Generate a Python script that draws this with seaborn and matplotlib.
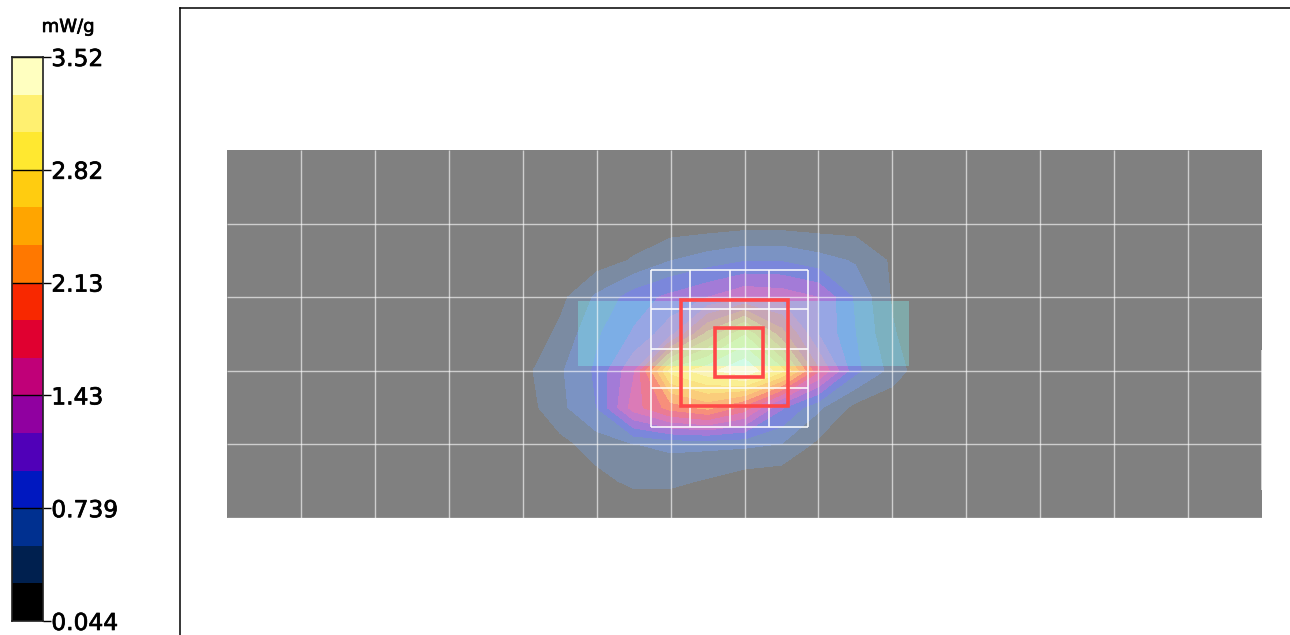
import numpy as np
import matplotlib
matplotlib.use('Agg')
import matplotlib.pyplot as plt
import matplotlib.patheffects as pe
from matplotlib.colors import ListedColormap, to_rgb
from matplotlib.patches import Rectangle
import seaborn as sns

# colour bar, bottom to top
bar_colors = ['#000000', '#00204f', '#003090', '#0018c0', '#5000b8',
              '#9000a0', '#c00078', '#e00030', '#f82800', '#ff7800',
              '#ffa500', '#ffcc10', '#ffe830', '#fff070', '#ffffc0']
bar_labels = ['3.52', '2.82', '2.13', '1.43', '0.739', '0.044']
level_min = 0.044
level_max = 3.52

# scan area size in cells
n_cols = 14
n_rows = 5

# SAR values, half cell spacing
scan_x = [4.0, 4.5, 5.0, 5.5, 6.0, 6.5, 7.0, 7.5, 8.0, 8.5, 9.0, 9.5]
scan_y = [1.0, 1.5, 2.0, 2.5, 3.0, 3.5, 4.0, 4.5, 5.0]
row_10 = [.05, .05, .08, .10, .13, .14, .17, .17, .15, .16, .12, .05]
row_15 = [.05, .08, .15, .30, .50, .62, .72, .72, .60, .48, .24, .08]
row_20 = [.05, .20, .55, .85, 1.03, 1.20, 1.40, 1.35, 1.20, .70, .25, .05]
row_25 = [.08, .33, .70, 1.00, 1.35, 2.20, 2.80, 2.00, 1.20, .74, .30, .08]
row_30 = [.20, .47, .78, 1.40, 2.90, 3.20, 3.52, 2.90, 1.70, .80, .42, .05]
row_35 = [.15, .44, .74, 1.55, 2.00, 2.20, 1.80, 1.00, .55, .20, .08, .05]
row_40 = [.05, .20, .38, .50, .56, .56, .55, .50, .22, .10, .05, .05]
row_45 = [.05, .08, .20, .33, .33, .25, .14, .10, .06, .05, .05, .05]
row_50 = [.05, .05, .05, .05, .05, .05, .05, .05, .05, .05, .05, .05]

W, H = 1290, 635


def px_axes(fig, x0, y0, x1, y1):
    return fig.add_axes([x0 / W, 1 - y1 / H, (x1 - x0) / W, (y1 - y0) / H])


def sx(px):
    # picture x to cell units
    return (px - 227) / (1262 - 227) * n_cols


def sy(px):
    return (px - 150) / (518 - 150) * n_rows


sns.set_theme(style='white')
plt.rcParams['font.family'] = ['DejaVu Sans']

fig = plt.figure(figsize=(W / 100, H / 100), dpi=100, facecolor='white')

# frame round the plot area, only left and top show
frame = px_axes(fig, 180, 8, W + 5, H + 5)
frame.set_xticks([])
frame.set_yticks([])
for side in ['right', 'bottom']:
    frame.spines[side].set_visible(False)
for side in ['left', 'top']:
    frame.spines[side].set_linewidth(1.1)
    frame.spines[side].set_color('black')

# colour bar
thick = [pe.withStroke(linewidth=0.5, foreground='black')]
cax = px_axes(fig, 12, 57, 43, 621)
steps = np.arange(len(bar_colors))[::-1].reshape(-1, 1)
sns.heatmap(steps, ax=cax, cmap=ListedColormap(bar_colors), cbar=False,
            xticklabels=False, yticklabels=False)
cax.yaxis.tick_right()
tick_pos = np.arange(len(bar_labels)) * 3
cax.set_yticks(tick_pos, bar_labels, rotation=0, fontsize=16.8, color='black')
cax.tick_params(axis='y', length=5.5, width=1, color='black', pad=0.5, right=True, left=False)
for lab in cax.get_yticklabels():
    lab.set_path_effects(thick)
cax.hlines(tick_pos, 0, 1, color='black', lw=1)
for s in cax.spines.values():
    s.set_visible(True)
    s.set_linewidth(1.2)
    s.set_color('#202020')
fig.text(68 / W, 1 - 27 / H, 'mW/g', ha='center', va='center', fontsize=13, color='black',
         path_effects=thick)

# grey scan area
ax = px_axes(fig, 227, 150, 1262, 518)
sns.heatmap(np.zeros((n_rows, n_cols)), ax=ax, cmap=ListedColormap(['#808080']), cbar=False,
            xticklabels=False, yticklabels=False)
ax.tick_params(left=False, bottom=False)

# contours, bar colours washed out over the grey
levels = np.linspace(level_min, level_max, len(bar_colors) + 1)
washed = [tuple(0.5 * c + 0.482 for c in to_rgb(col)) for col in bar_colors]
scan_z = np.array([row_10, row_15, row_20, row_25, row_30, row_35, row_40, row_45, row_50])
ax.contourf(scan_x, scan_y, scan_z, levels=levels[1:], colors=washed[1:], zorder=2)

# teal cube footprint
ax.add_patch(Rectangle((sx(578), sy(301)), sx(909) - sx(578), sy(366) - sy(301),
                       facecolor=(0.5, 1.0, 1.0), alpha=0.33, edgecolor='none', zorder=3))

# scan grid on top of the contours
ax.vlines(np.arange(1, n_cols), 0, n_rows, color='white', alpha=0.62, lw=1.0, zorder=4)
ax.hlines(np.arange(1, n_rows + 1), 0, n_cols, color='white', alpha=0.62, lw=1.0, zorder=4,
          clip_on=False)
ax.vlines(sx(1262), sy(350), sy(490), color='white', alpha=0.8, lw=1.2, zorder=4, clip_on=False)

# zoom scan, 4 x 4 white grid
zx = np.linspace(sx(651), sx(808), 5)
zy = np.linspace(sy(270), sy(427), 5)
ax.vlines(zx, zy[0], zy[-1], color='white', alpha=0.85, lw=1.3, zorder=5)
ax.hlines(zy, zx[0], zx[-1], color='white', alpha=0.85, lw=1.3, zorder=5)

# red cubes
for x0, y0, x1, y1 in [(681, 300, 788, 406), (715, 328, 763, 377)]:
    ax.add_patch(Rectangle((sx(x0), sy(y0)), sx(x1) - sx(x0), sy(y1) - sy(y0),
                           facecolor='none', edgecolor='#ff4848', lw=2.6, zorder=6, clip_on=False))

fig.savefig('out.png', dpi=100)
